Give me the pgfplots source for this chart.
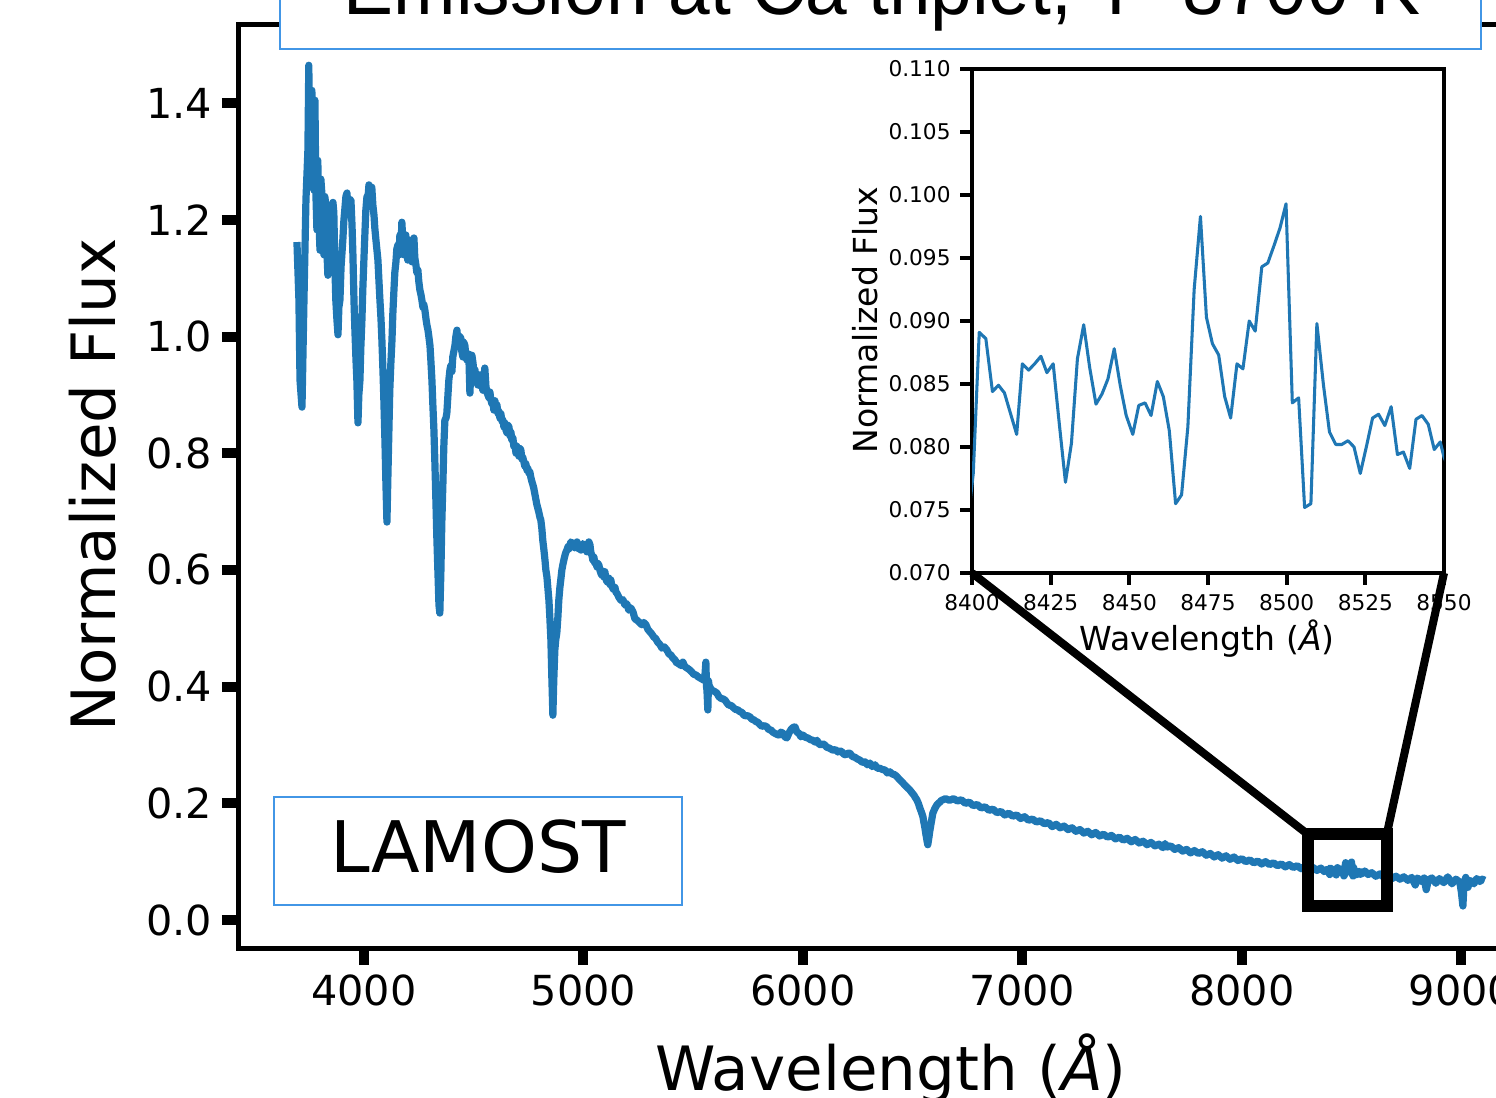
\documentclass[border=0pt]{standalone}
\usepackage{fontspec}
\setmainfont{DejaVu Sans}
\newfontfamily\titlefont[FakeStretch=0.93]{Liberation Sans}
\usepackage{pgfplots}
\usepackage{pgfplotstable}
\pgfplotsset{compat=1.18}
\definecolor{tabblue}{HTML}{1F77B4}
\definecolor{boxblue}{RGB}{66,150,230}

\pgfplotstableread{
x y
3695 1.162
3704 1.063
3709 0.925
3718 0.879
3727 1.063
3736 1.234
3745 1.320
3749 1.465
3754 1.300
3759 1.354
3763 1.422
3768 1.280
3772 1.251
3777 1.405
3781 1.250
3786 1.183
3790 1.302
3795 1.200
3800 1.148
3804 1.270
3809 1.243
3813 1.160
3818 1.140
3822 1.240
3827 1.225
3831 1.150
3836 1.105
3840 1.190
3845 1.208
3850 1.130
3854 1.148
3859 1.230
3863 1.213
3868 1.120
3872 1.063
3877 1.030
3882 1.003
3886 1.050
3891 1.063
3896 1.120
3904 1.165
3909 1.200
3913 1.217
3918 1.240
3923 1.246
3927 1.220
3932 1.208
3936 1.235
3941 1.234
3946 1.190
3950 1.140
3955 1.060
3959 1.011
3964 0.960
3968 0.925
3973 0.852
3977 0.900
3982 0.925
3986 0.980
3991 1.028
3995 1.080
4000 1.131
4005 1.180
4009 1.217
4014 1.240
4018 1.234
4023 1.260
4027 1.251
4032 1.240
4036 1.256
4041 1.225
4046 1.208
4050 1.185
4055 1.165
4059 1.150
4064 1.131
4068 1.100
4073 1.063
4078 1.030
4082 0.994
4087 0.940
4091 0.891
4096 0.820
4100 0.754
4105 0.682
4109 0.754
4114 0.840
4118 0.908
4123 0.955
4128 0.994
4132 1.040
4137 1.080
4141 1.110
4146 1.128
4150 1.150
4155 1.157
4160 1.140
4164 1.174
4169 1.150
4173 1.196
4178 1.160
4182 1.140
4187 1.170
4191 1.174
4196 1.145
4200 1.131
4205 1.160
4210 1.165
4214 1.140
4219 1.128
4223 1.150
4228 1.169
4232 1.135
4237 1.123
4241 1.110
4246 1.114
4250 1.095
4255 1.080
4260 1.072
4264 1.063
4269 1.050
4273 1.055
4278 1.045
4283 1.030
4287 1.020
4292 1.011
4296 1.000
4301 0.985
4305 0.960
4310 0.925
4314 0.885
4319 0.840
4323 0.790
4328 0.720
4332 0.660
4337 0.600
4342 0.540
4346 0.526
4351 0.600
4355 0.680
4360 0.749
4364 0.810
4369 0.857
4374 0.860
4378 0.869
4383 0.900
4387 0.925
4392 0.943
4396 0.950
4401 0.940
4405 0.965
4410 0.975
4415 0.985
4419 1.000
4424 1.011
4428 0.990
4433 0.985
4437 1.000
4442 0.997
4446 0.975
4451 0.965
4455 0.990
4460 0.985
4464 0.970
4469 0.960
4474 0.960
4478 0.970
4483 0.903
4488 0.950
4492 0.968
4497 0.955
4501 0.940
4506 0.943
4510 0.930
4515 0.925
4519 0.917
4524 0.935
4528 0.934
4533 0.915
4537 0.920
4542 0.908
4546 0.925
4551 0.946
4556 0.915
4560 0.905
4565 0.900
4570 0.895
4574 0.905
4579 0.891
4583 0.885
4588 0.888
4592 0.874
4597 0.890
4601 0.878
4606 0.883
4611 0.868
4615 0.872
4620 0.860
4624 0.868
4629 0.855
4633 0.857
4638 0.845
4642 0.852
4647 0.840
4652 0.835
4656 0.848
4661 0.845
4665 0.830
4670 0.836
4674 0.823
4679 0.826
4683 0.812
4688 0.814
4693 0.800
4697 0.812
4702 0.802
4706 0.795
4711 0.808
4715 0.806
4720 0.790
4724 0.793
4729 0.785
4733 0.778
4738 0.782
4743 0.771
4747 0.774
4752 0.766
4756 0.768
4761 0.758
4765 0.752
4770 0.746
4774 0.740
4779 0.730
4784 0.720
4788 0.712
4793 0.705
4797 0.699
4802 0.690
4806 0.686
4811 0.670
4815 0.651
4820 0.635
4825 0.617
4829 0.600
4834 0.588
4838 0.570
4843 0.548
4847 0.520
4852 0.480
4856 0.420
4861 0.351
4865 0.410
4870 0.463
4874 0.480
4879 0.492
4884 0.520
4888 0.548
4893 0.570
4897 0.583
4902 0.600
4907 0.610
4911 0.617
4916 0.625
4920 0.630
4925 0.634
4930 0.640
4934 0.636
4939 0.643
4943 0.648
4948 0.646
4952 0.640
4957 0.645
4961 0.638
4966 0.642
4971 0.648
4975 0.643
4980 0.636
4984 0.640
4989 0.634
4993 0.640
4998 0.645
5002 0.643
5007 0.636
5011 0.638
5016 0.631
5021 0.640
5025 0.648
5030 0.643
5034 0.630
5039 0.625
5043 0.617
5048 0.622
5052 0.612
5057 0.614
5062 0.605
5066 0.611
5071 0.608
5075 0.600
5080 0.594
5084 0.591
5089 0.598
5093 0.588
5098 0.597
5103 0.584
5107 0.580
5112 0.579
5116 0.586
5121 0.575
5125 0.583
5130 0.572
5135 0.568
5139 0.566
5144 0.570
5148 0.562
5153 0.560
5162 0.553
5171 0.548
5180 0.549
5189 0.540
5198 0.542
5207 0.531
5216 0.535
5226 0.528
5235 0.516
5244 0.514
5255 0.510
5266 0.506
5275 0.510
5285 0.506
5294 0.498
5303 0.494
5312 0.490
5321 0.485
5330 0.482
5339 0.476
5349 0.472
5358 0.466
5369 0.468
5380 0.463
5390 0.456
5399 0.454
5408 0.449
5417 0.446
5426 0.440
5435 0.440
5444 0.436
5453 0.442
5463 0.434
5472 0.432
5483 0.429
5494 0.425
5503 0.421
5513 0.420
5522 0.417
5531 0.415
5540 0.413
5549 0.411
5554 0.420
5558 0.442
5561 0.400
5563 0.394
5567 0.360
5570 0.410
5572 0.403
5578 0.398
5585 0.394
5596 0.392
5608 0.389
5617 0.383
5626 0.380
5635 0.379
5645 0.377
5654 0.372
5663 0.368
5672 0.368
5681 0.365
5692 0.361
5704 0.360
5713 0.357
5722 0.356
5731 0.351
5740 0.350
5749 0.350
5759 0.348
5768 0.344
5777 0.343
5786 0.340
5795 0.339
5804 0.335
5813 0.332
5825 0.333
5836 0.331
5845 0.326
5854 0.326
5863 0.322
5872 0.320
5882 0.318
5891 0.317
5900 0.322
5909 0.320
5918 0.314
5927 0.312
5936 0.320
5945 0.326
5955 0.330
5964 0.331
5973 0.322
5982 0.320
5991 0.314
6000 0.317
6012 0.313
6023 0.312
6035 0.309
6046 0.308
6055 0.305
6064 0.308
6073 0.302
6082 0.300
6091 0.302
6100 0.300
6109 0.296
6118 0.295
6128 0.293
6137 0.291
6148 0.292
6160 0.288
6169 0.290
6178 0.288
6187 0.284
6196 0.283
6205 0.286
6214 0.286
6226 0.280
6237 0.279
6248 0.276
6260 0.274
6271 0.270
6283 0.271
6294 0.266
6305 0.269
6316 0.263
6328 0.266
6340 0.260
6351 0.260
6362 0.258
6374 0.257
6385 0.252
6396 0.254
6408 0.250
6419 0.249
6430 0.245
6442 0.240
6453 0.236
6465 0.231
6476 0.227
6487 0.223
6497 0.218
6506 0.214
6512 0.210
6519 0.206
6526 0.200
6533 0.192
6540 0.185
6547 0.177
6551 0.168
6556 0.158
6560 0.148
6565 0.137
6569 0.129
6574 0.141
6578 0.152
6583 0.163
6588 0.174
6592 0.183
6601 0.191
6610 0.197
6617 0.200
6624 0.202
6631 0.205
6638 0.206
6650 0.208
6668 0.205
6686 0.208
6704 0.204
6722 0.206
6740 0.200
6758 0.202
6776 0.196
6794 0.198
6812 0.192
6830 0.194
6848 0.188
6866 0.190
6884 0.184
6902 0.186
6920 0.180
6938 0.183
6956 0.178
6974 0.180
6992 0.174
7010 0.177
7028 0.171
7046 0.173
7064 0.168
7082 0.170
7100 0.165
7118 0.167
7136 0.160
7154 0.164
7172 0.158
7190 0.161
7208 0.155
7226 0.158
7244 0.152
7262 0.155
7280 0.149
7298 0.152
7316 0.146
7334 0.150
7352 0.144
7370 0.147
7388 0.142
7406 0.145
7424 0.139
7442 0.142
7460 0.137
7478 0.140
7496 0.134
7514 0.138
7532 0.132
7550 0.135
7568 0.129
7586 0.133
7604 0.127
7622 0.130
7640 0.124
7650 0.131
7658 0.125
7676 0.127
7694 0.121
7712 0.124
7730 0.118
7748 0.121
7766 0.115
7784 0.119
7802 0.114
7820 0.117
7838 0.111
7856 0.114
7874 0.108
7892 0.112
7910 0.106
7928 0.110
7946 0.104
7964 0.108
7982 0.102
8000 0.105
8018 0.100
8036 0.103
8054 0.098
8072 0.101
8090 0.096
8108 0.100
8126 0.095
8144 0.098
8162 0.093
8180 0.096
8198 0.091
8216 0.095
8234 0.090
8252 0.093
8270 0.088
8288 0.092
8306 0.086
8324 0.090
8342 0.085
8360 0.089
8375 0.083
8390 0.087
8400.4 0.0779
8402.3 0.0891
8404.4 0.0886
8406.5 0.0844
8408.4 0.0849
8410.3 0.0843
8414.2 0.0810
8416.0 0.0866
8418.0 0.0861
8419.9 0.0866
8421.9 0.0872
8423.8 0.0859
8425.8 0.0866
8427.8 0.0817
8429.7 0.0772
8431.6 0.0803
8433.5 0.0870
8435.5 0.0897
8437.4 0.0863
8439.4 0.0834
8441.3 0.0842
8443.2 0.0854
8445.2 0.0878
8447.1 0.0849
8449.0 0.0825
8451.1 0.0810
8453.0 0.0833
8455.0 0.0835
8456.9 0.0825
8458.9 0.0852
8460.8 0.0840
8462.7 0.0813
8464.7 0.0755
8466.6 0.0762
8468.6 0.0816
8470.6 0.0925
8472.6 0.0983
8474.5 0.0903
8476.4 0.0882
8478.4 0.0873
8480.3 0.0840
8482.2 0.0823
8484.2 0.0866
8486.1 0.0862
8488.1 0.0900
8490.0 0.0892
8492.1 0.0943
8494.0 0.0946
8496.0 0.0960
8497.9 0.0974
8499.8 0.0993
8501.8 0.0835
8503.8 0.0839
8505.7 0.0752
8507.7 0.0755
8509.6 0.0898
8511.7 0.0849
8513.6 0.0812
8515.6 0.0802
8517.5 0.0802
8519.5 0.0805
8521.4 0.0800
8523.4 0.0779
8525.4 0.0801
8527.3 0.0823
8529.2 0.0826
8531.2 0.0817
8533.2 0.0832
8535.2 0.0794
8537.1 0.0796
8539.1 0.0783
8541.1 0.0822
8543.0 0.0825
8545.0 0.0818
8546.9 0.0798
8548.8 0.0804
8550.0 0.0792
8560 0.084
8575 0.078
8592 0.081
8610 0.075
8629 0.079
8647 0.073
8665 0.077
8684 0.071
8702 0.075
8720 0.070
8738 0.074
8756 0.068
8774 0.073
8790 0.060
8800 0.072
8818 0.066
8830 0.072
8840 0.052
8850 0.069
8866 0.072
8884 0.063
8900 0.071
8920 0.064
8938 0.074
8957 0.062
8975 0.070
8993 0.065
9000 0.048
9007 0.024
9012 0.062
9020 0.073
9030 0.056
9039 0.068
9057 0.062
9070 0.071
9084 0.066
9095 0.070
9107 0.068
}\mainspec

\pgfplotstableread{
x y
8398.4 0.0735
8400.4 0.0779
8402.3 0.0891
8404.4 0.0886
8406.5 0.0844
8408.4 0.0849
8410.3 0.0843
8414.2 0.0810
8416.0 0.0866
8418.0 0.0861
8419.9 0.0866
8421.9 0.0872
8423.8 0.0859
8425.8 0.0866
8427.8 0.0817
8429.7 0.0772
8431.6 0.0803
8433.5 0.0870
8435.5 0.0897
8437.4 0.0863
8439.4 0.0834
8441.3 0.0842
8443.2 0.0854
8445.2 0.0878
8447.1 0.0849
8449.0 0.0825
8451.1 0.0810
8453.0 0.0833
8455.0 0.0835
8456.9 0.0825
8458.9 0.0852
8460.8 0.0840
8462.7 0.0813
8464.7 0.0755
8466.6 0.0762
8468.6 0.0816
8470.6 0.0925
8472.6 0.0983
8474.5 0.0903
8476.4 0.0882
8478.4 0.0873
8480.3 0.0840
8482.2 0.0823
8484.2 0.0866
8486.1 0.0862
8488.1 0.0900
8490.0 0.0892
8492.1 0.0943
8494.0 0.0946
8496.0 0.0960
8497.9 0.0974
8499.8 0.0993
8501.8 0.0835
8503.8 0.0839
8505.7 0.0752
8507.7 0.0755
8509.6 0.0898
8511.7 0.0849
8513.6 0.0812
8515.6 0.0802
8517.5 0.0802
8519.5 0.0805
8521.4 0.0800
8523.4 0.0779
8525.4 0.0801
8527.3 0.0823
8529.2 0.0826
8531.2 0.0817
8533.2 0.0832
8535.2 0.0794
8537.1 0.0796
8539.1 0.0783
8541.1 0.0822
8543.0 0.0825
8545.0 0.0818
8546.9 0.0798
8548.8 0.0804
8550.0 0.0792
8552.0 0.0780
}\insetspec

\begin{document}
\begin{tikzpicture}
\useasboundingbox (-86.04bp,-54bp) rectangle (452.52bp,341.28bp);
\clip (-86.04bp,-54bp) rectangle (452.52bp,341.28bp);
\begin{axis}[
  name=main, at={(0,0)}, anchor=south west,
  scale only axis, width=469.44bp, height=332.28bp,
  xmin=3431, xmax=9372, ymin=-0.048, ymax=1.534,
  axis line style={line width=1.8bp},
  tick align=outside, tick pos=left,
  major tick length=6.2bp,
  tick style={line width=3.6bp, black},
  scaled ticks=false,
  xtick={4000,5000,6000,7000,8000,9000},
  ytick={0,0.2,0.4,0.6,0.8,1.0,1.2,1.4},
  /pgf/number format/assume math mode=true,
  tick label style={font=\fontsize{14.9bp}{17bp}\selectfont},
  xticklabel style={/pgf/number format/1000 sep={}},
  yticklabel style={/pgf/number format/.cd, fixed, fixed zerofill, precision=1},
  xlabel={Wavelength (\textit{Å})},
  xlabel style={at={(axis description cs:0.5,-0.154)}, anchor=base, font=\fontsize{22bp}{26bp}\selectfont},
  ylabel={Normalized Flux},
  ylabel style={at={(axis description cs:-0.112,0.502)}, anchor=center, font=\fontsize{22bp}{26bp}\selectfont},
]
\addplot[tabblue, line width=2.6bp, line join=round, mark=none] table[x=x,y=y]{\mainspec};
\draw[black, line width=4.3bp] (axis cs:8300,0.024) rectangle (axis cs:8660,0.147);
\coordinate (rtl) at (axis cs:8300,0.147);
\coordinate (rtr) at (axis cs:8660,0.147);
\end{axis}

\begin{axis}[
  name=ins, at={(263.88bp,135bp)}, anchor=south west,
  scale only axis, width=169.92bp, height=181.44bp,
  xmin=8400, xmax=8550, ymin=0.07, ymax=0.11,
  axis background/.style={fill=white},
  axis line style={line width=1.1bp},
  tick align=outside, tick pos=left,
  major tick length=4.2bp,
  tick style={line width=1.4bp, black},
  scaled ticks=false,
  xtick={8400,8425,8450,8475,8500,8525,8550},
  ytick={0.070,0.075,0.080,0.085,0.090,0.095,0.100,0.105,0.110},
  /pgf/number format/assume math mode=true,
  tick label style={font=\fontsize{7.8bp}{9bp}\selectfont},
  xticklabel style={/pgf/number format/1000 sep={}},
  yticklabel style={/pgf/number format/.cd, fixed, fixed zerofill, precision=3},
  xlabel={Wavelength (\textit{Å})},
  xlabel style={at={(axis description cs:0.498,-0.153)}, anchor=base, font=\fontsize{11.9bp}{14bp}\selectfont},
  ylabel={Normalized Flux},
  ylabel style={at={(axis description cs:-0.227,0.502)}, anchor=center, font=\fontsize{11.9bp}{14bp}\selectfont},
]
\addplot[tabblue, line width=1.1bp, line join=round, mark=none] table[x=x,y=y]{\insetspec};
\end{axis}

\draw[black, line width=2.9bp] (ins.south west) -- (rtl);
\draw[black, line width=2.9bp] (ins.south east) -- (rtr);

% LAMOST box
\draw[boxblue, line width=0.7bp, fill=white] (12.6bp,15.48bp) rectangle (159.48bp,54.36bp);
\node[anchor=base, inner sep=0pt, font=\fontsize{25.6bp}{30bp}\selectfont] at (86.04bp,27.36bp) {LAMOST};

% title box (cropped at top)
\draw[boxblue, line width=0.7bp, fill=white] (14.76bp,323.64bp) rectangle (447.12bp,400bp);
\node[anchor=base, inner sep=0pt, font=\titlefont\fontsize{29bp}{34bp}\selectfont] at (231.48bp,335.88bp) {Emission at Ca triplet, T\textasciitilde 8700 K};
\end{tikzpicture}
\end{document}
